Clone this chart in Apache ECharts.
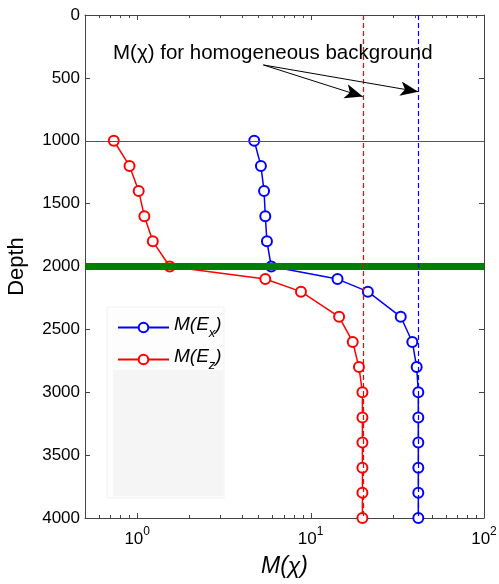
<!DOCTYPE html>
<html>
<head>
<meta charset="utf-8">
<script src="https://cdn.jsdelivr.net/npm/echarts@6/dist/echarts.min.js"></script>
<style>html,body{margin:0;padding:0;background:#fff}#c{width:499px;height:584px}</style>
</head>
<body>
<div id="c"></div>
<script>
// ---- data ----
const depths = [1000,1200,1400,1600,1800,2000,2100,2200,2400,2600,2800,3000,3200,3400,3600,3800,4000];
const mEx = [4.73,5.17,5.39,5.48,5.60,5.93,14.3,21.4,33.1,38.6,40.9,41.8,41.8,41.8,41.8,41.8,41.8];
const mEz = [0.733,0.903,1.02,1.10,1.23,1.54,5.48,8.8,14.6,17.5,19.0,19.9,19.9,19.9,19.9,19.9,19.9];
const bgEx = 41.8;
const bgEz = 20;
const layerTop = 1000;
const layerBottom = 2000;
const annotationText = 'M(\u03c7) for homogeneous background';
const arrowStart = [5.34, 397];
const arrowEnds = [[bgEz, 649], [bgEx, 610]];
const xMajorTicks = [1, 10, 100];
const xMinorTicks = [0.6,0.7,0.8,0.9,2,3,4,5,6,7,8,9,20,30,40,50,60,70,80,90];

const FONT = 'Arial, "Liberation Sans", sans-serif';
const allXTicks = xMinorTicks.concat(xMajorTicks);

const chart = echarts.init(document.getElementById('c'), null, {renderer:'canvas'});

const supLabel = v => '{b|10}{s|' + Math.round(Math.log10(v)) + '}';

const option = {
  animation: false,
  backgroundColor: '#fff',
  grid: {left: 85, right: 15, top: 15, bottom: 66, outerBoundsMode: 'none', containLabel: false},
  graphic: [
    {type:'rect', z: 0, shape:{x:107, y:307, width:117, height:191}, style:{fill:'#fdfdfd', stroke:'#f1f1f1', lineWidth:1}},
    {type:'rect', z: 0, shape:{x:113, y:370, width:110, height:126}, style:{fill:'#f5f5f5'}},
    {type:'text', z: 10, left: 113, top: 43, style:{text: annotationText, font: '20.5px ' + FONT, fill:'#000'}}
  ],
  legend: {
    orient: 'vertical', left: 112, top: 310, itemWidth: 51, itemHeight: 12, itemGap: 7,
    z: 5,
    data: ['Ex','Ez'],
    formatter: n => n === 'Ex' ? '{i|M(E}{sub|x}{i|)}' : '{i|M(E}{sub|z}{i|)}',
    textStyle: {
      color: '#000', fontFamily: FONT,
      rich: {
        i: {fontSize: 19, fontStyle: 'italic', fontFamily: FONT, color:'#000', padding:[0,0,6,0], verticalAlign:'bottom'},
        sub: {fontSize: 13, fontStyle: 'italic', fontFamily: FONT, color:'#000', verticalAlign:'bottom'}
      }
    }
  },
  xAxis: [
    {
      type: 'log', logBase: 10, min: 0.5, max: 100, position: 'bottom',
      axisLine: {show: true, onZero: false, lineStyle: {color: '#444', width: 1}},
      axisTick: {show: false},
      axisLabel: {
        show: true, customValues: xMajorTicks, margin: 8, formatter: supLabel,
        rich: {
          b: {fontSize: 17, fontFamily: FONT, color: '#000', verticalAlign: 'bottom'},
          s: {fontSize: 12, fontFamily: FONT, color: '#000', verticalAlign: 'bottom', padding: [0,0,10,0]}
        }
      },
      splitLine: {show: false}, minorTick: {show: false},
      name: 'M(\u03c7)', nameLocation: 'middle', nameGap: 37,
      nameTextStyle: {fontSize: 23, fontStyle: 'italic', fontFamily: FONT, color: '#000'}
    },
    {
      type: 'log', logBase: 10, min: 0.5, max: 100, position: 'top',
      axisLine: {show: true, onZero: false, lineStyle: {color: '#444', width: 1}},
      axisTick: {show: false},
      axisLabel: {show: false}, splitLine: {show: false}
    }
  ],
  yAxis: [
    {
      type: 'value', inverse: true, min: 0, max: 4000, interval: 500, position: 'left',
      axisLine: {show: true, onZero: false, lineStyle: {color: '#444', width: 1}},
      axisTick: {show: true, inside: true, length: 5, lineStyle: {color: '#444'}},
      axisLabel: {fontSize: 17, fontFamily: FONT, color: '#000', margin: 5, formatter: v => String(v)},
      splitLine: {show: false},
      name: 'Depth', nameLocation: 'middle', nameGap: 57,
      nameTextStyle: {fontSize: 22, fontFamily: FONT, color: '#000'}
    },
    {
      type: 'value', inverse: true, min: 0, max: 4000, interval: 500, position: 'right',
      axisLine: {show: true, onZero: false, lineStyle: {color: '#444', width: 1}},
      axisTick: {show: true, inside: true, length: 5, lineStyle: {color: '#444'}},
      axisLabel: {show: false}, splitLine: {show: false}
    }
  ],
  series: [
    {
      name: 'xticks', type: 'custom', coordinateSystem: 'cartesian2d', xAxisIndex: 0, yAxisIndex: 0,
      silent: true, clip: false, z: 2,
      data: allXTicks.map(v => [v, 0]),
      renderItem: (params, api) => {
        const v = api.value(0);
        const b = api.coord([v, 4000]);
        const t = api.coord([v, 0]);
        const len = xMajorTicks.indexOf(v) >= 0 ? 5 : 3;
        const x = Math.round(b[0]) + 0.5;
        return {type: 'group', children: [
          {type: 'line', shape: {x1: x, y1: b[1], x2: x, y2: b[1] - len}, style: {stroke: '#444', lineWidth: 1}},
          {type: 'line', shape: {x1: x, y1: t[1], x2: x, y2: t[1] + len}, style: {stroke: '#444', lineWidth: 1}}
        ]};
      }
    },
    {
      name: 'bg', type: 'line', data: [], z: 1, silent: true,
      markLine: {
        silent: true, symbol: ['none','none'], label: {show: false},
        data: [
          {yAxis: layerTop, lineStyle: {color: '#555', width: 1, type: 'solid'}},
          {yAxis: layerBottom, lineStyle: {color: '#008000', width: 7, type: 'solid'}},
          {xAxis: bgEz, lineStyle: {color: '#ff0000', width: 1.2, type: [5,3]}},
          {xAxis: bgEx, lineStyle: {color: '#0000ff', width: 1.2, type: [5,3]}}
        ]
      }
    },
    {
      name: 'Ex', type: 'line', z: 3, xAxisIndex: 0, yAxisIndex: 0,
      data: depths.map((d, i) => [mEx[i], d]),
      symbol: 'emptyCircle', symbolSize: 10, showAllSymbol: true,
      lineStyle: {color: '#0000ff', width: 1.5},
      itemStyle: {color: '#0000ff', borderColor: '#0000ff', borderWidth: 1.5},
      emphasis: {disabled: true}
    },
    {
      name: 'Ez', type: 'line', z: 3, xAxisIndex: 0, yAxisIndex: 0,
      data: depths.map((d, i) => [mEz[i], d]),
      symbol: 'emptyCircle', symbolSize: 10, showAllSymbol: true,
      lineStyle: {color: '#ff0000', width: 1.5},
      itemStyle: {color: '#ff0000', borderColor: '#ff0000', borderWidth: 1.5},
      emphasis: {disabled: true}
    },
    {
      name: 'arrows', type: 'line', data: [], z: 4, silent: true,
      markLine: {
        silent: true, symbol: ['none','arrow'], symbolSize: [11, 18], label: {show: false},
        lineStyle: {color: '#000', width: 1, type: 'solid'},
        data: arrowEnds.map(e => [{coord: arrowStart}, {coord: e}])
      }
    }
  ]
};
chart.setOption(option);
</script>
</body>
</html>
